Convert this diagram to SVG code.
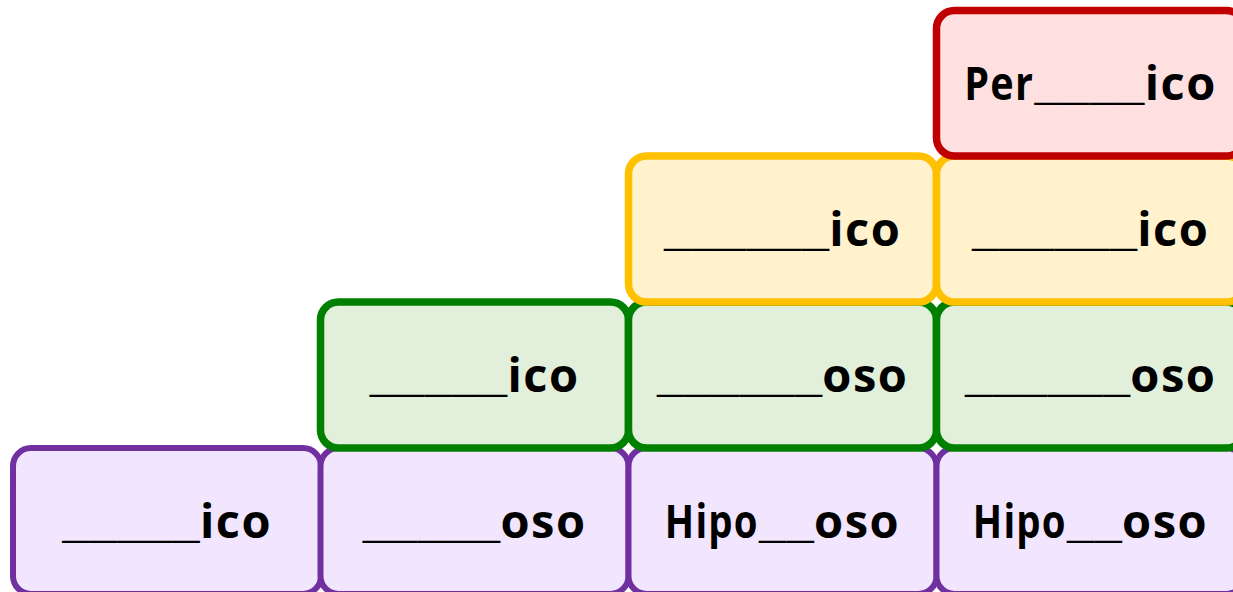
<svg xmlns="http://www.w3.org/2000/svg" width="1233" height="592" viewBox="0 0 1233 592">
  <style>
    .box { stroke-width: 7.5; }
    .purple { fill: #F1E6FE; stroke: #7030A0; stroke-width: 6; }
    .green { fill: #E2EFDA; stroke: #008000; }
    .yellow { fill: #FFF2CC; stroke: #FFC000; }
    .red { fill: #FFE0E0; stroke: #C00000; }
    .label { font-family: "Open Sans", "Liberation Sans", sans-serif; font-weight: 700; font-size: 47px; letter-spacing: 1.5px; fill: #000; text-anchor: middle; }
    .u { font-family: "Liberation Mono", monospace; font-weight: 700; font-size: 46px; letter-spacing: 0; }
  </style>
  <rect width="1233" height="592" fill="#fff"/>

  <!-- bottom row -->
  <g id="purple-1"><rect class="box purple" x="13" y="448" width="308" height="146" rx="18"/><text class="label" x="167" y="538"><tspan class="u">_____</tspan>ico</text></g>
  <g id="purple-2"><rect class="box purple" x="320.5" y="448" width="308" height="146" rx="18"/><text class="label" x="474.5" y="538"><tspan class="u">_____</tspan>oso</text></g>
  <g id="purple-3"><rect class="box purple" x="628.5" y="448" width="308" height="146" rx="18"/><text class="label" x="782.5" y="538"><tspan textLength="94" lengthAdjust="spacingAndGlyphs">Hipo</tspan><tspan class="u">__</tspan>oso</text></g>
  <g id="purple-4"><rect class="box purple" x="936.5" y="448" width="308" height="146" rx="18"/><text class="label" x="1090.5" y="538"><tspan textLength="94" lengthAdjust="spacingAndGlyphs">Hipo</tspan><tspan class="u">__</tspan>oso</text></g>

  <!-- second row -->
  <g id="green-1"><rect class="box green" x="320.5" y="302" width="308" height="146" rx="18"/><text class="label" x="474.5" y="392"><tspan class="u">_____</tspan>ico</text></g>
  <g id="green-2"><rect class="box green" x="628.5" y="302" width="308" height="146" rx="18"/><text class="label" x="782.5" y="392"><tspan class="u">______</tspan>oso</text></g>
  <g id="green-3"><rect class="box green" x="936.5" y="302" width="308" height="146" rx="18"/><text class="label" x="1090.5" y="392"><tspan class="u">______</tspan>oso</text></g>

  <!-- third row -->
  <g id="yellow-1"><rect class="box yellow" x="628.5" y="156" width="308" height="146" rx="18"/><text class="label" x="782.5" y="246"><tspan class="u">______</tspan>ico</text></g>
  <g id="yellow-2"><rect class="box yellow" x="936.5" y="156" width="308" height="146" rx="18"/><text class="label" x="1090.5" y="246"><tspan class="u">______</tspan>ico</text></g>

  <!-- top -->
  <g id="red-1"><rect class="box red" x="936.5" y="10.5" width="308" height="145.5" rx="18"/><text class="label" x="1090.5" y="100"><tspan textLength="70" lengthAdjust="spacingAndGlyphs">Per</tspan><tspan class="u">____</tspan>ico</text></g>

  <g id="connectors"></g>
</svg>
